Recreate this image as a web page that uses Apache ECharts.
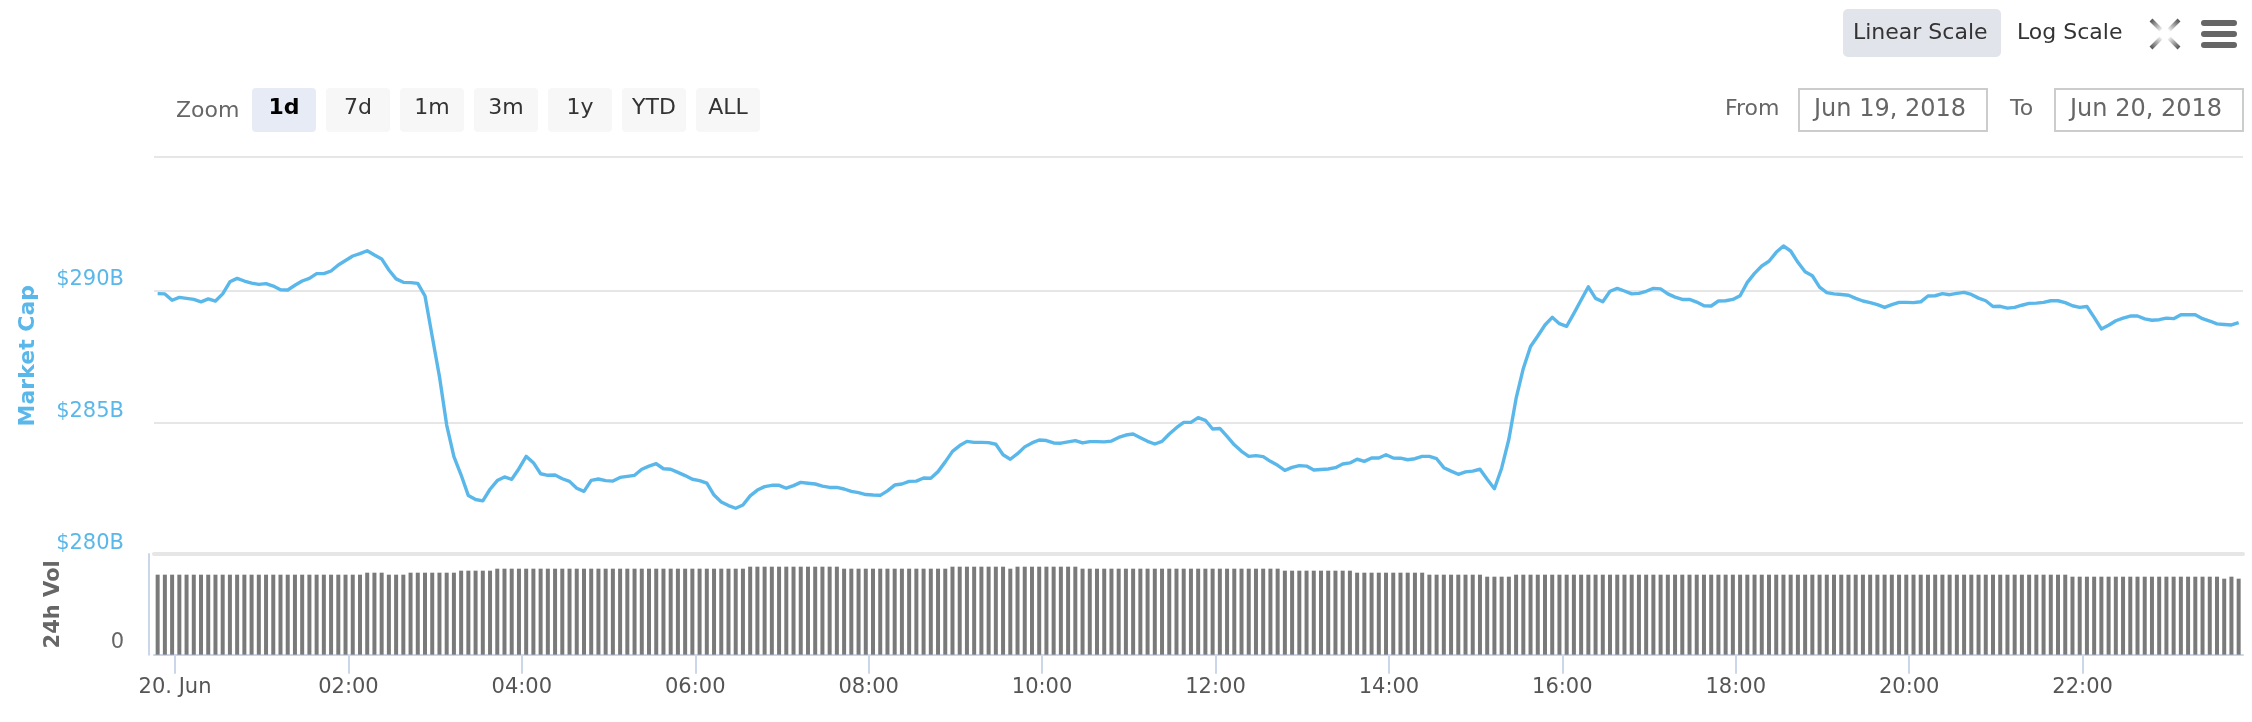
<!DOCTYPE html>
<html>
<head>
<meta charset="utf-8">
<style>html,body{margin:0;padding:0;background:#fff}#c{width:2252px;height:722px}</style>
<script src="https://cdn.jsdelivr.net/npm/echarts@6/dist/echarts.min.js"></script>
</head>
<body>
<div id="c"></div>
<script>
// Market cap in billions of USD, one reading every five minutes
const marketCap = [
289.90,289.89,289.65,289.76,289.72,289.68,289.59,289.70,289.62,289.89,290.35,290.48,290.38,290.30,290.25,290.28,290.19,290.05,290.04,290.22,
290.38,290.48,290.66,290.66,290.76,290.99,291.16,291.33,291.42,291.53,291.37,291.22,290.80,290.46,290.33,290.32,290.29,289.81,288.27,286.75,
284.91,283.71,283.01,282.23,282.08,282.03,282.47,282.80,282.94,282.85,283.25,283.72,283.48,283.06,283.00,283.01,282.87,282.77,282.51,282.39,
282.81,282.86,282.80,282.78,282.92,282.96,283.00,283.23,283.35,283.44,283.25,283.23,283.11,282.99,282.85,282.80,282.70,282.25,281.99,281.85,
281.75,281.87,282.22,282.44,282.57,282.62,282.62,282.51,282.61,282.73,282.70,282.67,282.59,282.54,282.54,282.48,282.39,282.34,282.27,282.25,
282.24,282.41,282.63,282.67,282.77,282.78,282.90,282.89,283.14,283.51,283.91,284.13,284.29,284.25,284.25,284.24,284.18,283.78,283.61,283.82,
284.08,284.23,284.34,284.32,284.23,284.22,284.27,284.32,284.23,284.28,284.28,284.27,284.30,284.44,284.53,284.57,284.43,284.29,284.19,284.29,
284.57,284.81,285.01,285.01,285.19,285.09,284.76,284.78,284.48,284.16,283.91,283.72,283.75,283.71,283.53,283.38,283.19,283.30,283.37,283.35,
283.20,283.22,283.24,283.29,283.43,283.47,283.61,283.53,283.66,283.66,283.78,283.66,283.65,283.59,283.63,283.72,283.72,283.63,283.29,283.16,
283.04,283.13,283.16,283.23,282.85,282.49,283.27,284.37,285.92,287.06,287.89,288.29,288.71,289.00,288.76,288.66,289.15,289.66,290.16,289.72,
289.59,289.99,290.10,290.00,289.89,289.91,289.99,290.10,290.08,289.89,289.77,289.68,289.68,289.58,289.44,289.43,289.62,289.63,289.68,289.82,
290.33,290.67,290.95,291.13,291.47,291.71,291.52,291.09,290.73,290.58,290.15,289.94,289.89,289.87,289.84,289.72,289.62,289.56,289.48,289.38,
289.48,289.57,289.57,289.56,289.59,289.81,289.82,289.90,289.86,289.91,289.95,289.87,289.73,289.63,289.41,289.42,289.35,289.38,289.46,289.53,
289.54,289.57,289.63,289.63,289.56,289.44,289.38,289.41,289.00,288.56,288.70,288.87,288.97,289.05,289.05,288.94,288.89,288.91,288.97,288.95,
289.10,289.10,289.10,288.95,288.86,288.75,288.73,288.71,288.80
];
// 24h volume in billions of USD (estimated: the picture has no scale beyond 0)
const volume = [
12.0,12.0,12.0,12.0,12.0,12.0,12.0,12.0,12.0,12.0,12.0,12.0,12.0,12.0,12.0,12.0,12.0,12.0,12.0,12.0,
12.0,12.0,12.0,12.0,12.0,12.0,12.0,12.0,12.0,12.3,12.3,12.3,12.0,12.0,12.0,12.3,12.3,12.3,12.3,12.3,
12.3,12.3,12.6,12.6,12.6,12.6,12.6,12.9,12.9,12.9,12.9,12.9,12.9,12.9,12.9,12.9,12.9,12.9,12.9,12.9,
12.9,12.9,12.9,12.9,12.9,12.9,12.9,12.9,12.9,12.9,12.9,12.9,12.9,12.9,12.9,12.9,12.9,12.9,12.9,12.9,
12.9,12.9,13.2,13.2,13.2,13.2,13.2,13.2,13.2,13.2,13.2,13.2,13.2,13.2,13.2,12.9,12.9,12.9,12.9,12.9,
12.9,12.9,12.9,12.9,12.9,12.9,12.9,12.9,12.9,12.9,13.2,13.2,13.2,13.2,13.2,13.2,13.2,13.2,12.9,13.2,
13.2,13.2,13.2,13.2,13.2,13.2,13.2,13.2,12.9,12.9,12.9,12.9,12.9,12.9,12.9,12.9,12.9,12.9,12.9,12.9,
12.9,12.9,12.9,12.9,12.9,12.9,12.9,12.9,12.9,12.9,12.9,12.9,12.9,12.9,12.9,12.9,12.6,12.6,12.6,12.6,
12.6,12.6,12.6,12.6,12.6,12.6,12.3,12.3,12.3,12.3,12.3,12.3,12.3,12.3,12.3,12.3,12.0,12.0,12.0,12.0,
12.0,12.0,12.0,12.0,11.7,11.7,11.7,11.7,12.0,12.0,12.0,12.0,12.0,12.0,12.0,12.0,12.0,12.0,12.0,12.0,
12.0,12.0,12.0,12.0,12.0,12.0,12.0,12.0,12.0,12.0,12.0,12.0,12.0,12.0,12.0,12.0,12.0,12.0,12.0,12.0,
12.0,12.0,12.0,12.0,12.0,12.0,12.0,12.0,12.0,12.0,12.0,12.0,12.0,12.0,12.0,12.0,12.0,12.0,12.0,12.0,
12.0,12.0,12.0,12.0,12.0,12.0,12.0,12.0,12.0,12.0,12.0,12.0,12.0,12.0,12.0,12.0,12.0,12.0,12.0,12.0,
12.0,12.0,12.0,12.0,12.0,11.7,11.7,11.7,11.7,11.7,11.7,11.7,11.7,11.7,11.7,11.7,11.7,11.7,11.7,11.7,
11.7,11.7,11.7,11.7,11.7,11.7,11.4,11.7,11.4
];
const tickHours = [0,2,4,6,8,10,12,14,16,18,20,22];
const tickLabels = ['20. Jun','02:00','04:00','06:00','08:00','10:00','12:00','14:00','16:00','18:00','20:00','22:00'];
const capTicks = [280,285,290];
const rangeButtons = ['1d','7d','1m','3m','1y','YTD','ALL'];

// x is expressed in minutes after midnight on 20 June
const firstPoint = -12, stepMinutes = 5;
const times = marketCap.map((_,i)=>firstPoint + i*stepMinutes);
const xMin = -14.53, xMax = 23.85*60;
const tickMinutes = tickHours.map(h=>h*60);
const capSeries = times.map((t,i)=>[t,marketCap[i]]);
const volSeries = times.map((t,i)=>[t,volume[i]]);

const FONT = 'DejaVu Sans';
const BLUE = '#5ab7ea';
const AXIS = '#ccd6eb';
const GRID = '#e6e6e6';
const capMax = 295.09, volMax = 15.1;

function txt(text,x,y,size,fill,align,weight){
  return {type:'text',silent:true,style:{text,x,y,font:(weight||'normal')+' '+size+'px "'+FONT+'"',fill,textAlign:align||'left',textVerticalAlign:'middle'}};
}
function box(x,y,w,h,fill,r){
  return {type:'rect',silent:true,shape:{x,y,width:w,height:h,r:r||0},style:{fill}};
}
const ui = [];
ui.push(txt('Zoom',176,111,22,'#666666'));
const btnX = [252,326,400,474,548,622,696];
rangeButtons.forEach((b,i)=>{
  ui.push(box(btnX[i],88,64,44,i===0?'#e6ebf5':'#f7f7f7',4));
  ui.push(txt(b,btnX[i]+32,108,22,i===0?'#000000':'#333333','center',i===0?'bold':'normal'));
});
ui.push(box(1843,9,158,48,'#e1e4ea',5));
ui.push(txt('Linear Scale',1853,33,22,'#333333'));
ui.push(txt('Log Scale',2017,33,22,'#333333'));
[[2151,20,2161,30],[2179,20,2169,30],[2151,48,2161,38],[2179,48,2169,38]].forEach(a=>{
  ui.push({type:'line',silent:true,shape:{x1:a[0],y1:a[1],x2:a[2],y2:a[3]},style:{lineWidth:4,stroke:{type:'linear',global:true,x:a[0],y:a[1],x2:a[2],y2:a[3],colorStops:[{offset:0,color:'#555555'},{offset:1,color:'#eeeeee'}]}}});
});
[20,31,42].forEach(y=>ui.push(box(2201,y,36,6,'#666666',3)));
ui.push(txt('From',1725,109,22,'#666666'));
ui.push({type:'rect',silent:true,shape:{x:1799,y:89,width:188,height:42},style:{fill:'#fff',stroke:'#cccccc',lineWidth:2}});
ui.push(txt('Jun 19, 2018',1814,110,24,'#666666'));
ui.push(txt('To',2010,109,22,'#666666'));
ui.push({type:'rect',silent:true,shape:{x:2055,y:89,width:188,height:42},style:{fill:'#fff',stroke:'#cccccc',lineWidth:2}});
ui.push(txt('Jun 20, 2018',2070,110,24,'#666666'));

const chart = echarts.init(document.getElementById('c'),null,{renderer:'canvas'});
chart.setOption({
  animation:false,
  backgroundColor:'#ffffff',
  textStyle:{fontFamily:FONT},
  graphic:{elements:ui},
  grid:[
    {left:154,right:9,top:157,height:397.3},
    {left:154,right:9,top:554,height:100.7}
  ],
  xAxis:[
    {type:'value',gridIndex:0,min:xMin,max:xMax,show:false,splitLine:{show:false}},
    {type:'value',gridIndex:1,min:xMin,max:xMax,position:'bottom',
      axisLine:{show:true,onZero:false,lineStyle:{color:AXIS,width:2}},
      axisTick:{show:true,length:19,lineStyle:{color:AXIS,width:2},customValues:tickMinutes},
      splitLine:{show:false},
      axisLabel:{show:true,customValues:tickMinutes,margin:22,fontSize:21,color:'#555555',fontFamily:FONT,hideOverlap:false,
        formatter:(v)=>tickLabels[tickMinutes.indexOf(v)]}
    },
    {type:'value',gridIndex:1,min:xMin,max:xMax,position:'top',
      axisLine:{show:true,onZero:false,lineStyle:{color:GRID,width:4}},
      axisTick:{show:false},axisLabel:{show:false},splitLine:{show:false}}
  ],
  yAxis:[
    {type:'value',gridIndex:0,min:280,max:capMax,position:'left',
      name:'Market Cap',nameLocation:'middle',nameRotate:90,nameGap:115,
      nameTextStyle:{color:BLUE,fontSize:22,fontWeight:'bold',fontFamily:FONT},
      axisLine:{show:false,onZero:false},
      axisTick:{show:false,customValues:[280,285,290,capMax]},
      splitLine:{show:true,lineStyle:{color:GRID,width:2}},
      axisLabel:{customValues:capTicks,formatter:v=>'$'+v+'B',color:BLUE,fontSize:21,fontFamily:FONT,margin:30,verticalAlign:'bottom',lineHeight:22}
    },
    {type:'value',gridIndex:1,min:0,max:volMax,position:'left',offset:5,
      name:'24h Vol',nameLocation:'middle',nameRotate:90,nameGap:85,
      nameTextStyle:{color:'#666666',fontSize:21,fontWeight:'bold',fontFamily:FONT},
      axisLine:{show:true,onZero:false,lineStyle:{color:AXIS,width:2}},
      axisTick:{show:false},
      splitLine:{show:false},
      axisLabel:{customValues:[0],color:'#666666',fontSize:21,fontFamily:FONT,margin:25,verticalAlign:'bottom',lineHeight:25}
    }
  ],
  series:[
    {name:'Market Cap',type:'line',xAxisIndex:0,yAxisIndex:0,data:capSeries,showSymbol:false,symbol:'none',
      lineStyle:{color:BLUE,width:3.4,join:'round'},z:3},
    {name:'24h Vol',type:'bar',xAxisIndex:1,yAxisIndex:1,data:volSeries,barWidth:4,
      itemStyle:{color:'#7a7a7a'},z:2}
  ]
});
</script>
</body>
</html>
